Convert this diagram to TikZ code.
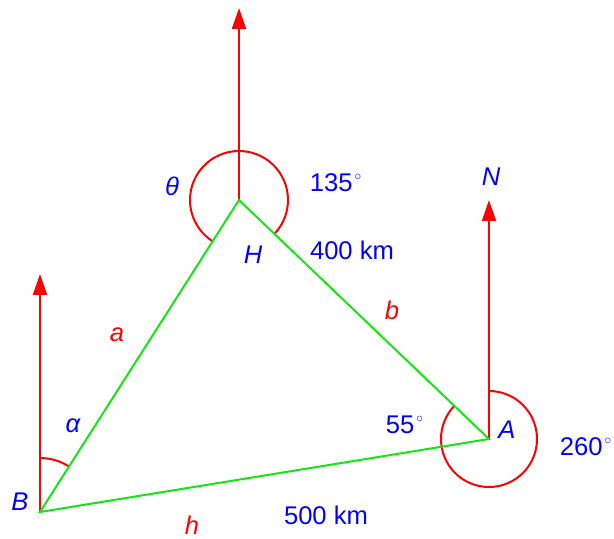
\documentclass[tikz,border=0pt]{standalone}
\usepackage{fontspec}
\setmainfont{Liberation Sans}
\newfontfamily\dejasym{DejaVu Sans}
\usetikzlibrary{arrows.meta}
\definecolor{lgreen}{RGB}{20,230,20}
\newcommand{\degmark}{\textsuperscript{\dejasym ◦}}
\begin{document}
\begin{tikzpicture}[x=0.5pt,y=0.5pt,
  edge/.style={lgreen,line width=1pt},
  northarrow/.style={red,line width=1pt,-{Triangle[length=10.5pt,width=7pt]}},
  anglearc/.style={red,line width=1pt},
  lbl/.style={blue,font=\fontsize{12.8}{15}\selectfont,inner sep=0pt},
  pt/.style={blue,font=\fontsize{12.8}{15}\selectfont\itshape,inner sep=0pt},
  side/.style={red,font=\fontsize{12.8}{15}\selectfont\itshape,inner sep=0pt}]
\useasboundingbox (0,0) rectangle (614,539);
\coordinate (H) at (239,339);
\coordinate (A) at (489,100);
\coordinate (B) at (40,27);
\coordinate (Htip) at (239,531);
\coordinate (Atip) at (489,339);
\coordinate (Btip) at (40,265);
% angle arcs
\draw[anglearc] ([shift={(-43.7:49)}]H) arc[start angle=-43.7, end angle=237.5, radius=49];
\draw[anglearc] ([shift={(90:48)}]A) arc[start angle=90, end angle=-223.7, radius=48];
\draw[anglearc] ([shift={(90:54)}]B) arc[start angle=90, end angle=57.5, radius=54];
% north arrows
\draw[northarrow] (H) -- (Htip);
\draw[northarrow] (A) -- (Atip);
\draw[northarrow] (B) -- (Btip);
% triangle
\draw[edge] (H) -- (A) -- (B) -- cycle;
% labels
\node[pt] (theta) at (172,353) {θ};
\node[lbl] (l135) at (337,356) {135\degmark};
\node[pt] (lH) at (253,284) {H};
\node[lbl] (l400) at (352,289) {400 km};
\node[side] (lb) at (392,229) {b};
\node[pt] (lN) at (491,362) {N};
\node[side] (la) at (117,204) {a};
\node[pt] (alpha) at (73,113) {α};
\node[lbl] (l55) at (406,114) {55\degmark};
\node[pt] (lA) at (507,109) {A};
\node[lbl] (l260) at (587,92) {260\degmark};
\node[pt] (lB) at (20,37) {B};
\node[side] (lh) at (192,14) {h};
\node[lbl] (l500) at (326,24) {500 km};
\end{tikzpicture}
\end{document}
